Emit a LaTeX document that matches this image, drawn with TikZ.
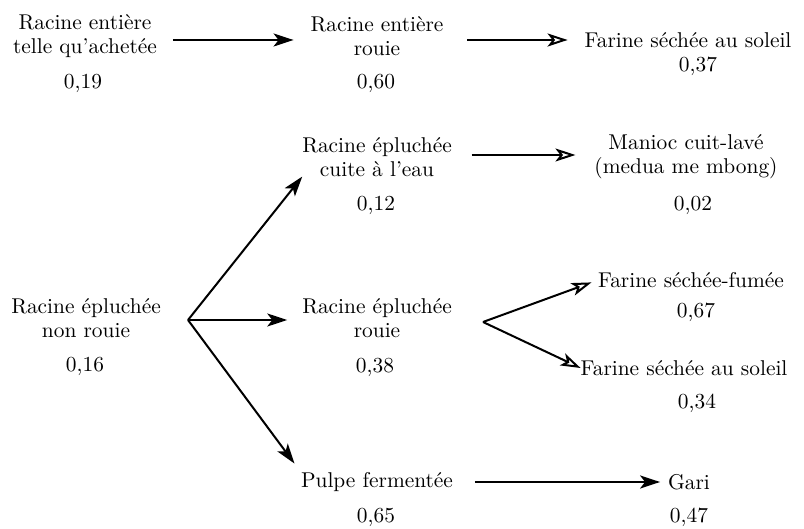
\documentclass[tikz,border=0pt]{standalone}
\usepackage{tikz}
\usetikzlibrary{arrows.meta}
\tikzset{
  Txt/.style={align=center, inner sep=0pt, outer sep=0pt,
    font=\fontsize{10.7}{12}\selectfont},
  Arr/.style={line width=1pt, -{Stealth[length=10pt,width=6.5pt,inset=2.5pt]}},
  OpenArr/.style={line width=1pt, -{Stealth[open,length=10pt,width=6.5pt,inset=2.5pt]}}
}

\begin{document}
\begin{tikzpicture}[x=0.5pt,y=-0.5pt]
    \useasboundingbox (0,0) rectangle (804,529);

    \node[Txt] (a) at (85,36) {Racine entière\\telle qu'achetée};
    \node[Txt] (aval) at (83,83) {0,19};
    \node[Txt] (b) at (377,36) {Racine entière\\rouie};
    \node[Txt] (bval) at (376,83) {0,60};
    \node[Txt] (c) at (688,40) {Farine séchée au soleil};
    \node[Txt] (cval) at (698,66) {0,37};

    \node[Txt] (d) at (377,157) {Racine épluchée\\cuite à l'eau};
    \node[Txt] (dval) at (376,205) {0,12};
    \node[Txt] (e) at (686,157) {Manioc cuit-lavé\\(medua me mbong)};
    \node[Txt] (eval) at (693,205) {0,02};

    \node[Txt] (f) at (86,318) {Racine épluchée\\non rouie};
    \node[Txt] (fval) at (85,366) {0,16};
    \node[Txt] (g) at (377,318) {Racine épluchée\\rouie};
    \node[Txt] (gval) at (375,367) {0,38};
    \node[Txt] (i) at (691,280) {Farine séchée-fumée};
    \node[Txt] (ival) at (696,312) {0,67};
    \node[Txt] (j) at (684,368) {Farine séchée au soleil};
    \node[Txt] (jval) at (697,403) {0,34};

    \node[Txt] (h) at (377,482) {Pulpe fermentée};
    \node[Txt] (hval) at (376,517) {0,65};
    \node[Txt] (k) at (689,482) {Gari};
    \node[Txt] (kval) at (689,517) {0,47};

    \coordinate (fork1) at (188,320);
    \coordinate (fork2) at (483,322);

    \draw[Arr, shorten <=8pt, shorten >=8.5pt] ([yshift=-2pt]a.east) -- ([yshift=-2pt]b.west);
    \draw[OpenArr, shorten <=12pt, shorten >=8.5pt] (b.east |- c.west) -- (c.west);
    \draw[OpenArr, shorten <=10pt, shorten >=9.5pt] ([yshift=1pt]d.east) -- ([yshift=1pt]e.west);
    \draw[Arr, shorten <=11pt, shorten >=4pt] (h.east) -- (k.west);

    \draw[Arr] (fork1) -- (d.south west);
    \draw[Arr, shorten >=7.5pt] (fork1) -- (fork1 -| g.west);
    \draw[Arr, shorten >=5.5pt] (fork1) -- (h.north west);

    \draw[OpenArr, shorten >=3.5pt] (fork2) -- (i.west);
    \draw[OpenArr] (fork2) -- (j.west);
\end{tikzpicture}
\end{document}
